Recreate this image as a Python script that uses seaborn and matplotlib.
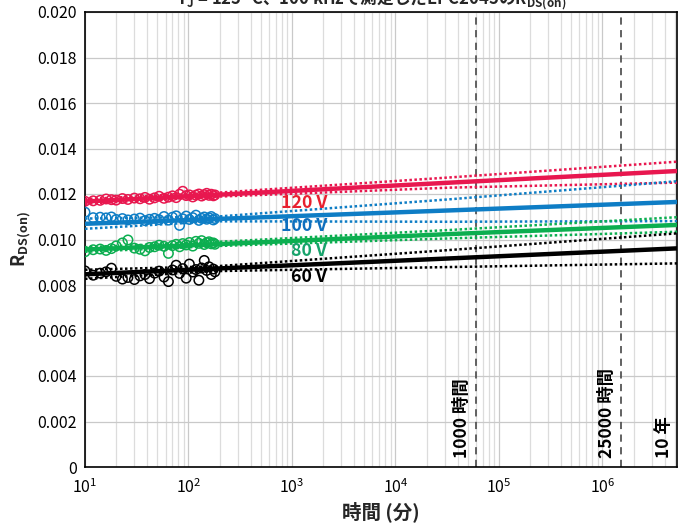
import numpy as np
import pandas as pd
import matplotlib
matplotlib.use("Agg")
import matplotlib.pyplot as plt
import seaborn as sns
from matplotlib.ticker import LogLocator, NullFormatter, FixedLocator

# ---------------- data ----------------
voltages = ["120 V", "100 V", "80 V", "60 V"]
line_colors = ["#E8174F", "#0E7DC5", "#0CAE50", "#000000"]
label_colors = ["#E8202F", "#0E6FBE", "#17A36B", "#000000"]

t_meas = [10, 12, 14, 16, 18, 20, 23, 26, 30, 34, 38, 42, 47, 52, 58, 64,
          70, 76, 82, 88, 95, 102, 110, 118, 126, 134, 142, 150, 158, 166, 174, 180]

rds_120 = [0.01168, 0.01170, 0.01172, 0.01178, 0.01175, 0.01173, 0.01180, 0.01176,
           0.01182, 0.01179, 0.01185, 0.01177, 0.01183, 0.01190, 0.01181, 0.01186,
           0.01192, 0.01184, 0.01199, 0.01212, 0.01193, 0.01196, 0.01187, 0.01195,
           0.01200, 0.01191, 0.01197, 0.01203, 0.01194, 0.01199, 0.01192, 0.01196]
rds_100 = [0.01120, 0.01096, 0.01098, 0.01095, 0.01099, 0.01088, 0.01092, 0.01086,
           0.01090, 0.01094, 0.01083, 0.01089, 0.01093, 0.01087, 0.01101, 0.01085,
           0.01098, 0.01104, 0.01062, 0.01091, 0.01103, 0.01088, 0.01096, 0.01107,
           0.01084, 0.01093, 0.01099, 0.01089, 0.01095, 0.01101, 0.01086, 0.01092]
rds_80 = [0.00946, 0.00955, 0.00958, 0.00952, 0.00960, 0.00972, 0.00985, 0.00998,
          0.00962, 0.00957, 0.00950, 0.00965, 0.00968, 0.00975, 0.00970, 0.00939,
          0.00973, 0.00979, 0.00968, 0.00982, 0.00976, 0.00987, 0.00971, 0.00992,
          0.00983, 0.00995, 0.00978, 0.00986, 0.00990, 0.00981, 0.00985, 0.00979]
rds_60 = [0.00862, 0.00843, 0.00852, 0.00858, 0.00874, 0.00838, 0.00826, 0.00833,
          0.00824, 0.00840, 0.00846, 0.00828, 0.00852, 0.00861, 0.00835, 0.00815,
          0.00866, 0.00887, 0.00851, 0.00872, 0.00830, 0.00892, 0.00857, 0.00868,
          0.00821, 0.00875, 0.00908, 0.00864, 0.00880, 0.00846, 0.00870, 0.00858]

# fitted trend lines and confidence bounds
fit_t = [10, 180, 34000, 5.256e6]
fit_120 = [0.01167, 0.01196, 0.01250, 0.01301]
upper_120 = [0.01178, 0.01205, 0.01273, 0.01342]
lower_120 = [0.01157, 0.01188, 0.01228, 0.01250]
fit_100 = [0.01069, 0.01090, 0.01128, 0.01165]
upper_100 = [0.01092, 0.01100, 0.01177, 0.01256]
lower_100 = [0.01047, 0.01080, 0.01078, 0.01081]
fit_80 = [0.00956, 0.00979, 0.01024, 0.01064]
upper_80 = [0.00966, 0.00989, 0.01042, 0.01098]
lower_80 = [0.00946, 0.00971, 0.01005, 0.01034]
fit_60 = [0.00847, 0.00872, 0.00917, 0.00961]
upper_60 = [0.00867, 0.00882, 0.00954, 0.01027]
lower_60 = [0.00827, 0.00861, 0.00879, 0.00895]

markers_t = [6.0e4, 1.5e6, 5.256e6]
marker_labels = ["1000 時間", "25000 時間", "10 年"]

y_ticks = [0, 0.002, 0.004, 0.006, 0.008, 0.010, 0.012, 0.014, 0.016, 0.018, 0.020]
y_tick_labels = ["0", "0.002", "0.004", "0.006", "0.008", "0.010", "0.012",
                 "0.014", "0.016", "0.018", "0.020"]
x_ticks = [1e1, 1e2, 1e3, 1e4, 1e5, 1e6]
x_tick_labels = [r"$\mathregular{10^{%d}}$" % k for k in range(1, 7)]

meas = {"120 V": rds_120, "100 V": rds_100, "80 V": rds_80, "60 V": rds_60}
fits = {"120 V": (fit_120, upper_120, lower_120),
        "100 V": (fit_100, upper_100, lower_100),
        "80 V": (fit_80, upper_80, lower_80),
        "60 V": (fit_60, upper_60, lower_60)}

# ---------------- style ----------------
sns.set_theme(style="white")
plt.rcParams["font.family"] = ["Noto Sans CJK JP", "DejaVu Sans"]
plt.rcParams["axes.unicode_minus"] = False

fig = plt.figure(figsize=(6.81, 5.27), dpi=100)
ax = fig.add_axes([85 / 681, 60 / 527, 592 / 681, 455 / 527])

ax.set_xscale("log")
ax.set_xlim(10, 5.256e6)
ax.set_ylim(0, 0.020)

# grid
ax.xaxis.set_minor_locator(LogLocator(base=10, subs=np.arange(2, 10), numticks=20))
ax.xaxis.set_minor_formatter(NullFormatter())
ax.grid(which="major", axis="both", color="#c9c9c9", lw=0.9)
ax.grid(which="minor", axis="x", color="#dcdcdc", lw=0.9)
ax.set_axisbelow(True)

for v, col in zip(voltages, line_colors):
    f, up, lo = fits[v]
    sns.lineplot(x=fit_t, y=up, ax=ax, color=col, lw=1.8, linestyle=(0, (1, 1)), zorder=3)
    sns.lineplot(x=fit_t, y=lo, ax=ax, color=col, lw=1.8, linestyle=(0, (1, 1)), zorder=3)
    sns.lineplot(x=fit_t, y=f, ax=ax, color=col, lw=3.2, zorder=4)
    sns.scatterplot(x=t_meas, y=meas[v], ax=ax, marker="o", s=46,
                    facecolors="none", edgecolor=col, linewidth=1.1, zorder=5)

# voltage labels
label_y = [0.01160, 0.01060, 0.00950, 0.00835]
for v, c, yy in zip(voltages, label_colors, label_y):
    ax.text(2180, yy, v, color=c, fontsize=12.8, fontweight="bold",
            ha="right", va="center", zorder=6)

# vertical markers
for tt in markers_t[:2]:
    ax.axvline(tt, color="#555555", lw=1.3, linestyle=(0, (4, 3)), zorder=2)
marker_x = [4.4e4, 1.1e6, 3.9e6]
for xx, lab in zip(marker_x, marker_labels):
    ax.text(xx, 0.0004, lab, rotation=90, fontsize=12.5, fontweight="bold",
            ha="center", va="bottom", color="black", zorder=6)

ax.set_yticks(y_ticks)
ax.set_yticklabels(y_tick_labels)
ax.xaxis.set_major_locator(FixedLocator(x_ticks))
ax.set_xticklabels(x_tick_labels)
ax.tick_params(axis="both", which="both", length=0, labelsize=11.5, colors="black")
ax.tick_params(axis="x", pad=8)
ax.tick_params(axis="y", pad=6)

for s in ax.spines.values():
    s.set_color("black")
    s.set_linewidth(1.2)

ax.set_xlabel("時間 (分)", fontsize=14, fontweight="bold", labelpad=3)
ax.set_ylabel(r"$\mathregular{R_{DS(on)}}$", fontsize=13, fontweight="bold", labelpad=3)

fig.text(0.545, 1.0 - 5 / 527,
         r"$\mathregular{T_J}$ = 125 °C、100 kHzで測定したEPC2045の$\mathregular{R_{DS(on)}}$",
         ha="center", va="baseline", fontsize=12, fontweight="bold")

fig.savefig("out.png", dpi=100)
